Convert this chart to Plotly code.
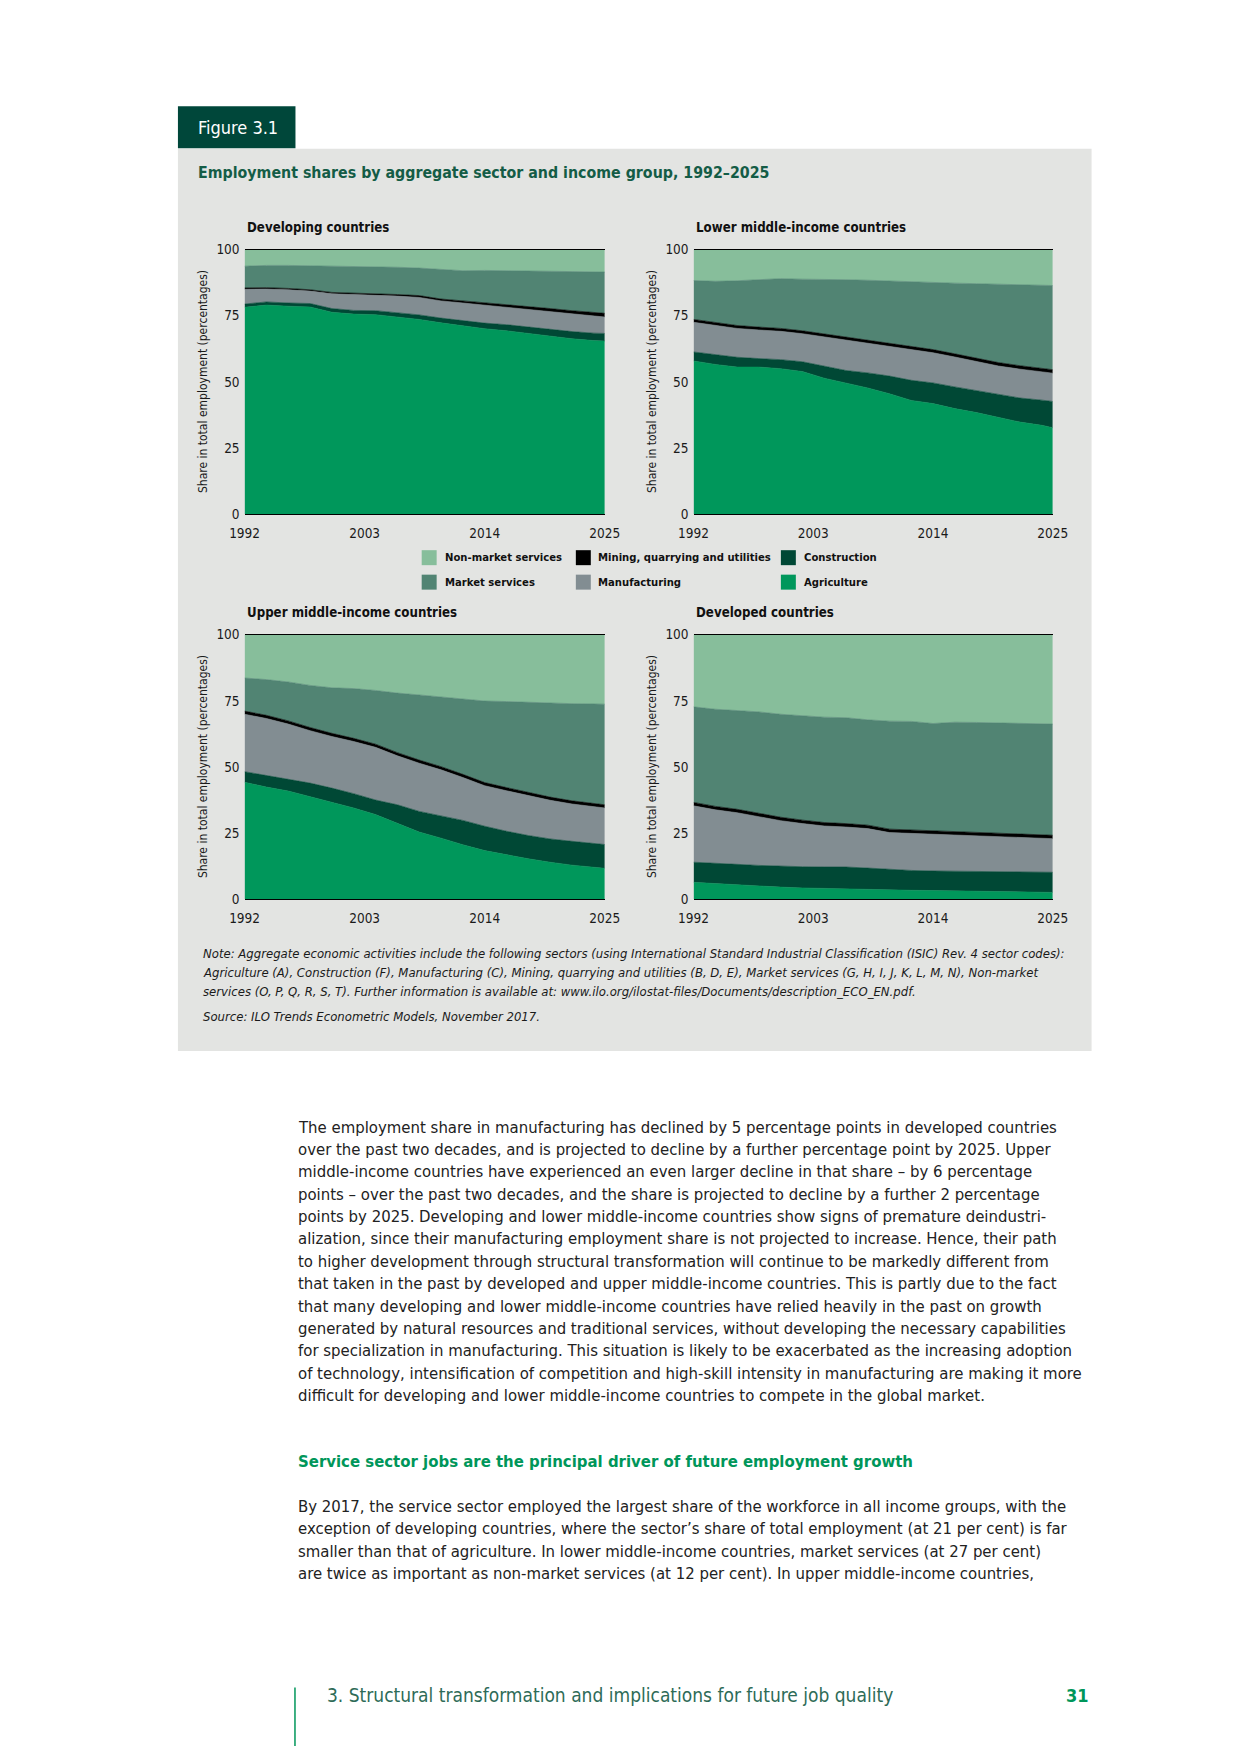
import plotly.graph_objects as go

W, H = 1240, 1754

# ---------------- data ----------------
years = [1992, 1994, 1996, 1998, 2000, 2002, 2004, 2006, 2008, 2010, 2012,
         2014, 2016, 2018, 2020, 2022, 2024, 2025]
x_ticks = [1992, 2003, 2014, 2025]
y_ticks = [0, 25, 50, 75, 100]
y_minor_ticks = [25, 50, 75]

sectors = ["Agriculture", "Construction", "Manufacturing",
           "Mining, quarrying and utilities", "Market services", "Non-market services"]
sector_colors = ["#00975B", "#004835", "#828D92", "#000000", "#518473", "#87BE9B"]

# Developing countries
dev_agriculture = [78.2, 79.0, 78.6, 78.3, 76.3, 75.6, 75.4, 74.6, 73.6, 72.3, 71.2, 70.1, 69.3, 68.3, 67.3, 66.3, 65.6, 65.4]
dev_construction = [1.2, 1.2, 1.2, 1.3, 1.4, 1.4, 1.5, 1.6, 1.7, 1.8, 2.0, 2.1, 2.3, 2.4, 2.5, 2.7, 2.8, 2.9]
dev_manufacturing = [5.6, 4.9, 5.0, 4.7, 5.6, 6.0, 5.9, 6.2, 6.6, 6.5, 6.6, 6.8, 6.7, 6.8, 6.8, 6.7, 6.5, 6.2]
dev_mining = [0.5, 0.5, 0.5, 0.5, 0.5, 0.6, 0.6, 0.6, 0.7, 0.7, 0.8, 0.9, 1.0, 1.0, 1.1, 1.2, 1.3, 1.4]
dev_market = [8.2, 8.4, 8.7, 9.1, 9.9, 10.0, 10.1, 10.3, 10.4, 11.2, 11.4, 12.2, 12.7, 13.5, 14.2, 14.9, 15.4, 15.6]
dev_nonmarket = [6.3, 6.0, 6.0, 6.1, 6.3, 6.4, 6.5, 6.7, 7.0, 7.5, 8.0, 7.9, 8.0, 8.0, 8.1, 8.2, 8.4, 8.5]

# Lower middle-income countries
lmi_agriculture = [57.9, 56.6, 55.6, 55.6, 55.0, 53.9, 51.4, 49.6, 47.7, 45.5, 43.0, 41.8, 39.9, 38.4, 36.5, 34.8, 33.6, 32.7]
lmi_construction = [3.4, 3.6, 3.7, 3.2, 3.4, 3.7, 4.6, 4.7, 5.7, 6.7, 7.6, 7.8, 8.2, 8.3, 9.0, 9.1, 9.5, 9.9]
lmi_manufacturing = [11.2, 11.1, 10.9, 10.8, 10.7, 10.6, 11.0, 11.5, 11.2, 11.3, 11.6, 11.4, 11.3, 11.1, 10.5, 10.9, 10.7, 10.7]
lmi_mining = [1.1, 1.1, 1.1, 1.1, 1.1, 1.1, 1.1, 1.1, 1.1, 1.2, 1.2, 1.2, 1.2, 1.2, 1.3, 1.3, 1.3, 1.3]
lmi_market = [14.7, 15.6, 16.9, 17.8, 18.8, 19.5, 20.7, 21.7, 22.7, 23.4, 24.3, 25.3, 26.7, 28.1, 29.6, 30.6, 31.4, 31.8]
lmi_nonmarket = [11.7, 12.0, 11.8, 11.5, 11.0, 11.2, 11.2, 11.4, 11.6, 11.9, 12.3, 12.5, 12.7, 12.9, 13.1, 13.3, 13.5, 13.6]

# Upper middle-income countries
umi_agriculture = [44.2, 42.4, 40.9, 38.8, 36.6, 34.5, 32.0, 28.8, 25.4, 23.1, 20.6, 18.4, 16.8, 15.3, 14.0, 12.9, 12.1, 11.7]
umi_construction = [4.0, 4.3, 4.5, 5.1, 5.4, 5.4, 5.5, 6.9, 7.8, 8.5, 9.2, 9.2, 8.9, 8.8, 8.8, 9.0, 9.0, 9.0]
umi_manufacturing = [21.7, 21.6, 20.8, 19.8, 19.5, 19.7, 19.9, 18.5, 18.2, 17.3, 16.2, 15.3, 15.3, 15.1, 14.6, 14.1, 13.8, 13.8]
umi_mining = [1.2, 1.2, 1.2, 1.2, 1.2, 1.2, 1.2, 1.2, 1.2, 1.2, 1.2, 1.2, 1.2, 1.2, 1.2, 1.2, 1.2, 1.2]
umi_market = [12.5, 13.5, 14.7, 15.9, 17.2, 18.8, 20.3, 22.5, 24.6, 26.4, 28.6, 30.8, 32.5, 34.0, 35.6, 36.7, 37.7, 38.0]
umi_nonmarket = [16.4, 17.0, 17.9, 19.2, 20.1, 20.4, 21.1, 22.1, 22.8, 23.5, 24.2, 25.1, 25.3, 25.6, 25.8, 26.1, 26.2, 26.3]

# Developed countries
dvd_agriculture = [6.4, 5.9, 5.5, 5.1, 4.6, 4.3, 4.1, 3.9, 3.6, 3.5, 3.4, 3.3, 3.2, 3.1, 3.0, 2.9, 2.7, 2.6]
dvd_construction = [7.6, 7.8, 7.7, 7.7, 7.9, 8.0, 8.1, 8.3, 8.2, 7.8, 7.5, 7.4, 7.4, 7.4, 7.4, 7.4, 7.5, 7.6]
dvd_manufacturing = [21.3, 20.1, 19.5, 18.5, 17.2, 16.3, 15.5, 15.1, 14.9, 13.9, 14.0, 13.9, 13.7, 13.5, 13.2, 13.0, 12.8, 12.7]
dvd_mining = [1.3, 1.3, 1.3, 1.3, 1.3, 1.3, 1.3, 1.3, 1.3, 1.3, 1.3, 1.3, 1.3, 1.3, 1.3, 1.3, 1.3, 1.3]
dvd_market = [36.1, 36.7, 37.3, 38.2, 38.9, 39.5, 39.8, 40.0, 39.8, 40.8, 41.0, 40.5, 41.3, 41.5, 41.7, 41.9, 42.0, 42.0]
dvd_nonmarket = [27.3, 28.2, 28.7, 29.2, 30.1, 30.6, 31.2, 31.4, 32.2, 32.7, 32.8, 33.6, 33.1, 33.2, 33.4, 33.5, 33.7, 33.8]

panel_titles = ["Developing countries", "Lower middle-income countries",
                "Upper middle-income countries", "Developed countries"]
panel_series = [
    [dev_agriculture, dev_construction, dev_manufacturing, dev_mining, dev_market, dev_nonmarket],
    [lmi_agriculture, lmi_construction, lmi_manufacturing, lmi_mining, lmi_market, lmi_nonmarket],
    [umi_agriculture, umi_construction, umi_manufacturing, umi_mining, umi_market, umi_nonmarket],
    [dvd_agriculture, dvd_construction, dvd_manufacturing, dvd_mining, dvd_market, dvd_nonmarket],
]

y_axis_title = "Share in total employment (percentages)"
figure_label = "Figure 3.1"
figure_title = "Employment shares by aggregate sector and income group, 1992–2025"
note_lines = [
    "Note: Aggregate economic activities include the following sectors (using International Standard Industrial Classification (ISIC) Rev. 4 sector codes):",
    "Agriculture (A), Construction (F), Manufacturing (C), Mining, quarrying and utilities (B, D, E), Market services (G, H, I, J, K, L, M, N), Non-market",
    "services (O, P, Q, R, S, T). Further information is available at: www.ilo.org/ilostat-files/Documents/description_ECO_EN.pdf.",
]
source_line = "Source: ILO Trends Econometric Models, November 2017."
body_lines = [
    "The employment share in manufacturing has declined by 5 percentage points in developed countries",
    "over the past two decades, and is projected to decline by a further percentage point by 2025. Upper",
    "middle-income countries have experienced an even larger decline in that share – by 6 percentage",
    "points – over the past two decades, and the share is projected to decline by a further 2 percentage",
    "points by 2025. Developing and lower middle-income countries show signs of premature deindustri-",
    "alization, since their manufacturing employment share is not projected to increase. Hence, their path",
    "to higher development through structural transformation will continue to be markedly different from",
    "that taken in the past by developed and upper middle-income countries. This is partly due to the fact",
    "that many developing and lower middle-income countries have relied heavily in the past on growth",
    "generated by natural resources and traditional services, without developing the necessary capabilities",
    "for specialization in manufacturing. This situation is likely to be exacerbated as the increasing adoption",
    "of technology, intensification of competition and high-skill intensity in manufacturing are making it more",
    "difficult for developing and lower middle-income countries to compete in the global market.",
]
heading = "Service sector jobs are the principal driver of future employment growth"
body2_lines = [
    "By 2017, the service sector employed the largest share of the workforce in all income groups, with the",
    "exception of developing countries, where the sector’s share of total employment (at 21 per cent) is far",
    "smaller than that of agriculture. In lower middle-income countries, market services (at 27 per cent)",
    "are twice as important as non-market services (at 12 per cent). In upper middle-income countries,",
]
footer_text = "3. Structural transformation and implications for future job quality"
page_number = "31"

# legend layout: (sector index) rows x columns as in the original
legend_grid = [[5, 3, 1], [4, 2, 0]]

# ---------------- layout helpers ----------------
COND = "Liberation Sans Narrow, DejaVu Sans Condensed, Roboto Condensed, Arial Narrow, sans-serif"
TXT = "#1a1a1a"

# page-pixel -> paper mapping (compensates for the frame around the captured page)
OFF_X, SC_X = 13.4, 0.978
OFF_Y, SC_Y = 6.7, 0.992


def px(x):
    return ((x - OFF_X) / SC_X) / W


def py(y):
    return 1 - ((y - OFF_Y) / SC_Y) / H


fig = go.Figure()
annotations = []
shapes = []


def text(s, x, y, size, color=TXT, anchor="left", family=COND, angle=0, weight=None):
    f = dict(size=size, color=color, family=family)
    if weight:
        f["weight"] = weight
    annotations.append(dict(text=s, x=px(x), y=py(y), xref="paper", yref="paper",
                            xanchor=anchor, yanchor="middle", showarrow=False,
                            font=f, textangle=angle))


# background panel & figure tab
shapes.append(dict(type="rect", xref="paper", yref="paper", x0=px(176.7), x1=px(1092.4),
                   y0=py(1051), y1=py(147.6), fillcolor="#E3E4E2", line_width=0, layer="below"))
shapes.append(dict(type="rect", xref="paper", yref="paper", x0=px(176.7), x1=px(294.5),
                   y0=py(147), y1=py(105), fillcolor="#00473A", line_width=0, layer="below"))
text(figure_label, 195, 126.5, 18, "white")
text("<b>" + figure_title + "</b>", 194.5, 171.5, 15.8, "#145C46")

# panel geometry (page pixels)
panel_x = [(243.5, 604.5), (693.5, 1053.5), (243.5, 604.5), (693.5, 1053.5)]
panel_y = [(248.5, 513.5), (248.5, 513.5), (634, 899), (634, 899)]

for i in range(4):
    xa = "x" if i == 0 else f"x{i+1}"
    ya = "y" if i == 0 else f"y{i+1}"
    for s_idx in range(6):
        fig.add_trace(go.Scatter(
            x=years, y=panel_series[i][s_idx], name=sectors[s_idx],
            xaxis=xa, yaxis=ya, stackgroup=f"g{i}", mode="lines",
            line=dict(width=0.6, color=sector_colors[s_idx]),
            fillcolor=sector_colors[s_idx], showlegend=False, hoverinfo="skip"))
    x0, x1 = panel_x[i]
    y0, y1 = panel_y[i]
    key = "" if i == 0 else str(i + 1)
    fig.layout["xaxis" + key] = dict(
        domain=[px(x0), px(x1)], anchor=ya, range=[1992, 2025], tickvals=x_ticks,
        showgrid=False, zeroline=False, showline=True, linecolor="black", linewidth=1.4,
        mirror=True, ticks="", ticklabelstandoff=6,
        tickfont=dict(size=13.5, color=TXT, family=COND))
    fig.layout["yaxis" + key] = dict(
        domain=[py(y1), py(y0)], anchor=xa, range=[0, 100], tickvals=y_ticks,
        showgrid=False, zeroline=False, showline=False, ticks="", ticklabelstandoff=4,
        tickfont=dict(size=13.5, color=TXT, family=COND))
    # small tick marks on the right edge
    fig.layout["yaxis" + str(i + 5)] = dict(
        domain=[py(y1), py(y0)], anchor=xa, overlaying=ya, side="right",
        range=[0, 100], tickvals=y_minor_ticks, ticks="outside", ticklen=2,
        tickwidth=1, tickcolor="#444444", showticklabels=False, showgrid=False,
        zeroline=False, showline=False)
    text("<b>" + panel_titles[i] + "</b>", x0, y0 - 22, 13.2, "#111111")
    text(y_axis_title, x0 - 41.5, (y0 + y1) / 2, 12, TXT, anchor="center", angle=-90)

# legend
leg_cols = [(421, 442.5), (575.5, 596), (781, 802.5)]
leg_rows = [557, 581.5]
for r, row in enumerate(legend_grid):
    for c, s_idx in enumerate(row):
        sx, tx = leg_cols[c]
        yy = leg_rows[r]
        shapes.append(dict(type="rect", xref="paper", yref="paper", x0=px(sx), x1=px(sx + 15),
                           y0=py(yy + 7.5), y1=py(yy - 7.5), fillcolor=sector_colors[s_idx],
                           line_width=0))
        text("<b>" + sectors[s_idx] + "</b>", tx, yy, 11.2, "#111111")

# notes
for k, line in enumerate(note_lines):
    text("<i>" + line + "</i>", 200, 953.7 + k * 19, 13, TXT)
text("<i>" + source_line + "</i>", 200, 1016.4, 13, TXT)

# body text
for k, line in enumerate(body_lines):
    text(line, 295, 1127 + k * 22.4, 16.6, "#222222", weight=300)
text("<b>" + heading + "</b>", 295, 1461.5, 16.6, "#00965A")
for k, line in enumerate(body2_lines):
    text(line, 295, 1507 + k * 22.4, 16.6, "#222222", weight=300)

# footer
shapes.append(dict(type="line", xref="paper", yref="paper", x0=px(294), x1=px(294),
                   y0=0, y1=py(1688), line=dict(color="#00965A", width=1.5)))
text(footer_text, 324, 1696, 19, "#2E6B57", weight=300)
text("<b>" + page_number + "</b>", 1092, 1696, 18, "#00965A", anchor="right")

fig.update_layout(width=W, height=H, margin=dict(l=0, r=0, t=0, b=0),
                  paper_bgcolor="white", plot_bgcolor="rgba(0,0,0,0)",
                  showlegend=False, annotations=annotations, shapes=shapes,
                  font=dict(family=COND))
fig.write_html("out.html", config={"displayModeBar": False},
               post_script="document.body.style.margin='0';")
